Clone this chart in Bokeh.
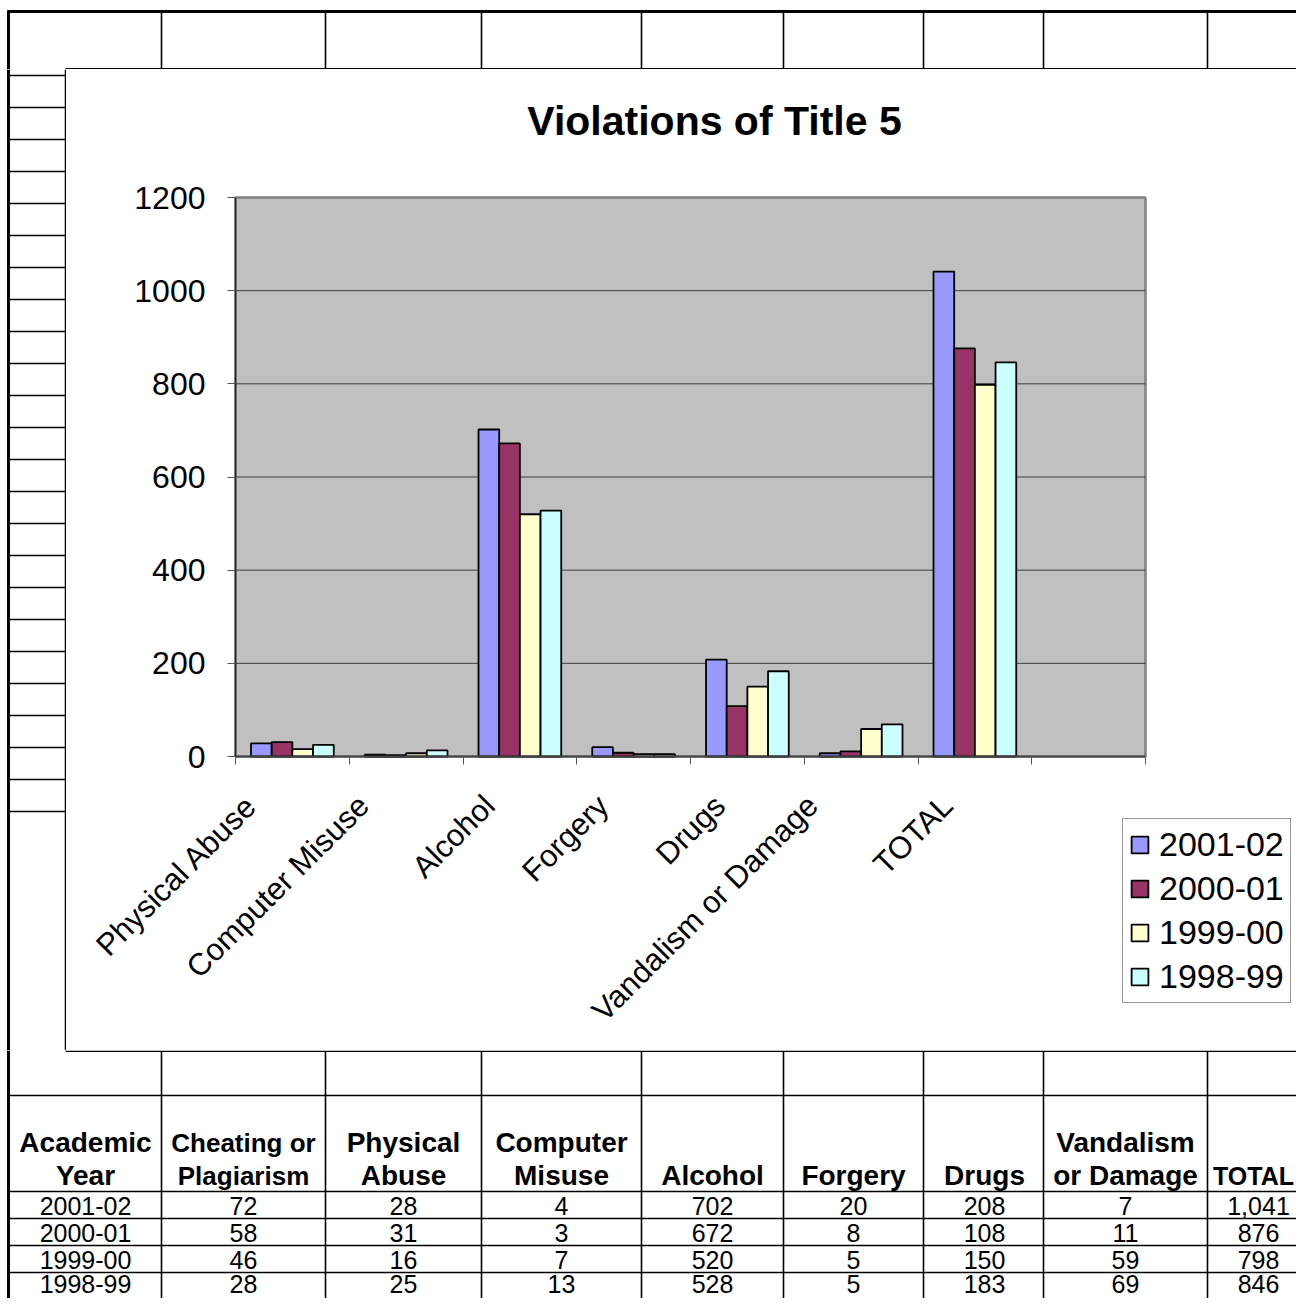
import numpy as np
from bokeh.plotting import figure
from bokeh.models import (Range1d, FixedTicker, Legend, LegendItem, Label,
                          ColumnDataSource)
from bokeh.layouts import column, row
from bokeh.transform import dodge
from bokeh.embed import file_html
from bokeh.resources import INLINE
from bokeh.core.properties import value

FONT = "Liberation Sans"

# ---------------- data ----------------
years = ["2001-02", "2000-01", "1999-00", "1998-99"]
cheating = [72, 58, 46, 28]
physical = [28, 31, 16, 25]
computer = [4, 3, 7, 13]
alcohol = [702, 672, 520, 528]
forgery = [20, 8, 5, 5]
drugs = [208, 108, 150, 183]
vandalism = [7, 11, 59, 69]
total = [1041, 876, 798, 846]

chart_categories = ["Physical Abuse", "Computer Misuse", "Alcohol", "Forgery",
                    "Drugs", "Vandalism or Damage", "TOTAL", ""]
table_headers = [["Academic", "Year"], ["Cheating or", "Plagiarism"],
                 ["Physical", "Abuse"], ["Computer", "Misuse"], ["Alcohol"],
                 ["Forgery"], ["Drugs"], ["Vandalism", "or Damage"], ["TOTAL"]]
series_colors = ["#9999FF", "#993366", "#FFFFCC", "#CCFFFF"]
y_ticks = [0, 200, 400, 600, 800, 1000, 1200]

W, H = 1296, 1298

# ---------------- helpers ----------------
def canvas(x0, x1, y0, y1):
    p = figure(width=x1 - x0, height=y1 - y0,
               x_range=Range1d(x0, x1), y_range=Range1d(y1, y0),
               x_axis_type=None, y_axis_type=None,
               output_backend="svg", toolbar_location=None, min_border=0)
    p.grid.visible = False
    p.outline_line_color = None
    p.background_fill_color = "white"
    p.border_fill_color = "white"
    return p

GRID_LW = 1.6
col_lines = [161, 325, 481, 641, 783, 923, 1043, 1207]

# ---------------- top strip ----------------
top = canvas(0, W, 0, 69)
top.segment(x0=[7], y0=[11], x1=[W], y1=[11], line_color="black", line_width=3)
top.segment(x0=[8], y0=[10], x1=[8], y1=[69], line_color="black", line_width=3)
top.segment(x0=col_lines, y0=[11] * len(col_lines), x1=col_lines, y1=[68] * len(col_lines),
            line_color="black", line_width=GRID_LW)
top.segment(x0=[65], y0=[68.3], x1=[W], y1=[68.3], line_color="black", line_width=1.5)

# ---------------- left strip ----------------
left = canvas(0, 66, 69, 1050)
rows_y = [75 + 32 * k for k in range(24)]
left.segment(x0=[8], y0=[69], x1=[8], y1=[1050], line_color="black", line_width=3)
left.segment(x0=[8] * len(rows_y), y0=rows_y, x1=[65] * len(rows_y), y1=rows_y,
             line_color="black", line_width=GRID_LW)
left.segment(x0=[65], y0=[69], x1=[65], y1=[1050], line_color="black", line_width=1.5)

# ---------------- chart ----------------
ncat = len(chart_categories)
px_per_cat = (1145 - 235) / ncat
units_per_px = 1200 / (756 - 197)
x_lo = -(235 - 66) / px_per_cat
x_hi = ncat + (W - 1145) / px_per_cat
y_lo = -(1050 - 756) * units_per_px
y_hi = 1200 + (197 - 69) * units_per_px

chart = figure(width=W - 66, height=981, x_range=Range1d(x_lo, x_hi), y_range=Range1d(y_lo, y_hi),
               output_backend="svg", toolbar_location=None, min_border=0)
chart.background_fill_color = "white"
chart.border_fill_color = "white"
chart.outline_line_color = None
chart.grid.visible = False

# plot area (gray wall) and gridlines
chart.quad(left=[0], right=[ncat], bottom=[y_ticks[0]], top=[y_ticks[-1]],
           fill_color="#C0C0C0", line_color="#808080", line_width=2.5)
chart.segment(x0=[0] * (len(y_ticks) - 2), x1=[ncat] * (len(y_ticks) - 2),
              y0=y_ticks[1:-1], y1=y_ticks[1:-1], line_color="#3c3c3c", line_width=1)

chart.yaxis.fixed_location = 0
chart.yaxis.bounds = (y_ticks[0], y_ticks[-1])
chart.yaxis.ticker = FixedTicker(ticks=y_ticks)
chart.yaxis.major_label_text_font = FONT
chart.yaxis.major_label_text_font_size = "32px"
chart.yaxis.major_label_text_color = "black"
chart.yaxis.major_tick_out = 8
chart.yaxis.major_tick_in = 0
chart.yaxis.major_tick_line_color = "#555555"
chart.yaxis.minor_tick_line_color = None
chart.yaxis.axis_line_color = "#222222"
chart.yaxis.axis_line_width = 1.5
chart.yaxis.major_label_standoff = 22

# category labels: slightly left of centre, as the spreadsheet draws them
label_pos = [i + 0.5 - (20 + 1.5 * len(c)) / px_per_cat for i, c in enumerate(chart_categories)]
chart.xaxis.fixed_location = 0
chart.xaxis.bounds = (0, ncat)
chart.xaxis.ticker = FixedTicker(ticks=label_pos, minor_ticks=list(range(ncat + 1)))
chart.xaxis.major_label_overrides = {p: lab for p, lab in zip(label_pos, chart_categories)}
chart.xaxis.major_label_orientation = np.pi / 4
chart.xaxis.major_label_text_font = FONT
chart.xaxis.major_label_text_font_size = "31px"
chart.xaxis.major_label_text_color = "black"
chart.xaxis.major_tick_line_color = None
chart.xaxis.major_tick_out = 0
chart.xaxis.major_tick_in = 0
chart.xaxis.minor_tick_out = 8
chart.xaxis.minor_tick_in = 0
chart.xaxis.minor_tick_line_color = "#555555"
chart.xaxis.axis_line_color = "#444444"
chart.xaxis.axis_line_width = 2
chart.xaxis.major_label_standoff = 36

centers = [i + 0.5 for i in range(ncat)]
series = [[physical[i], computer[i], alcohol[i], forgery[i], drugs[i], vandalism[i], total[i]]
          for i in range(len(years))]
src = ColumnDataSource(dict(pos=centers[:7], **{years[i]: series[i] for i in range(len(years))}))
bar_w = 1 / 5.5
items = []
for i, yr in enumerate(years):
    off = (i - 1.5) * bar_w
    r = chart.vbar(x=dodge("pos", off, range=chart.x_range), top=yr, width=bar_w, bottom=0,
                   source=src, fill_color=series_colors[i], line_color="black", line_width=1.8)
    items.append(LegendItem(label=yr, renderers=[r]))

legend = Legend(items=items, location=(1122 - 66, 1050 - 1003))
legend.label_text_font = FONT
legend.label_text_font_size = "34px"
legend.label_text_color = "black"
legend.glyph_width = 21
legend.glyph_height = 21
legend.label_standoff = 9
legend.spacing = 5
legend.padding = 6
legend.margin = 0
legend.border_line_color = "#333333"
legend.border_line_width = 1
legend.background_fill_color = "white"
legend.background_fill_alpha = 1
chart.add_layout(legend, "center")

title = Label(x=(714 - 235) / px_per_cat, y=(756 - 120) * units_per_px, text="Violations of Title 5",
              text_align="center", text_baseline="middle",
              text_font=FONT, text_font_size="41px", text_font_style="bold",
              text_color="black")
chart.add_layout(title)

# ---------------- bottom table ----------------
bot = canvas(0, W, 1050, H)
bot.segment(x0=[8], y0=[1050], x1=[8], y1=[H], line_color="black", line_width=3)
bot.segment(x0=[65], y0=[1050.8], x1=[W], y1=[1050.8], line_color="black", line_width=1.5)
bot.segment(x0=col_lines, y0=[1051] * len(col_lines), x1=col_lines, y1=[H] * len(col_lines),
            line_color="black", line_width=GRID_LW)
hrows = [1095, 1191, 1218, 1245, 1272]
bot.segment(x0=[8] * len(hrows), y0=hrows, x1=[W] * len(hrows), y1=hrows,
            line_color="black", line_width=GRID_LW)

col_centers = [85, 243, 403, 561, 712, 853, 984, 1125, 1253]
hx, hy, ht, hs = [], [], [], []
for c, hdr in zip(col_centers, table_headers):
    ys = [1142, 1175] if len(hdr) == 2 else [1175]
    for t, yy in zip(hdr, ys):
        hx.append(c); hy.append(yy); ht.append(t)
        if hdr[0] == "Cheating or":
            hs.append("26px")
        elif hdr[0] == "TOTAL":
            hs.append("25px")
        else:
            hs.append("28px")
bot.text(x=hx, y=hy, text=ht, text_font_size=hs, text_font=value(FONT),
         text_font_style="bold", text_align="center", text_baseline="middle",
         text_color="black")

columns_data = [years, cheating, physical, computer, alcohol, forgery, drugs, vandalism, total]
data_centers = col_centers[:-1] + [1258]
row_y = [1205, 1232, 1259, 1283]
dx, dy, dt = [], [], []
for c, vals in zip(data_centers, columns_data):
    for yy, v in zip(row_y, vals):
        dx.append(c); dy.append(yy)
        dt.append(v if isinstance(v, str) else f"{v:,}")
bot.text(x=dx, y=dy, text=dt, text_font_size="25px", text_font=value(FONT),
         text_align="center", text_baseline="middle", text_color="black")

layout = column(top, row(left, chart), bot)
open("out.html", "w").write(file_html(layout, INLINE))
